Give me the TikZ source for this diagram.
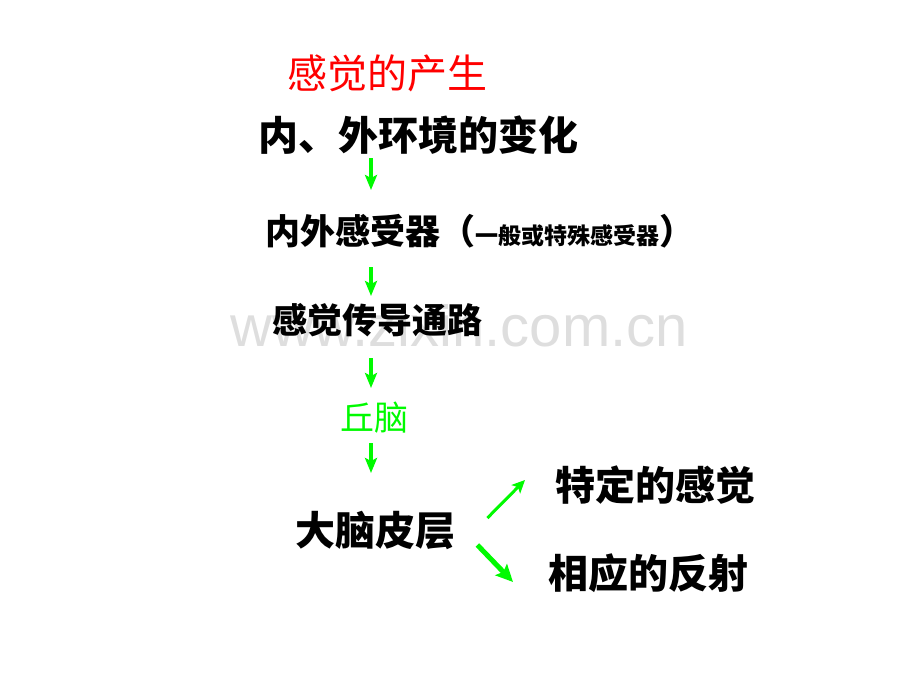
\documentclass[tikz,border=0pt]{standalone}
\usepackage{fontspec}
\setmainfont{Noto Sans CJK SC}
\newfontfamily\wmfont{Liberation Sans}
\usetikzlibrary{shapes,calc,arrows.meta}
\definecolor{arrgreen}{RGB}{0,250,0}
\definecolor{wmgray}{RGB}{222,222,222}
\tikzstyle{txt}=[inner sep=0pt,anchor=base west]
\tikzstyle{arr}=[-{Stealth[length=15pt,width=12pt,inset=3pt]},draw=arrgreen,line width=4pt]

\begin{document}
\begin{tikzpicture}[x=1pt,y=-1pt]
\useasboundingbox (0,0) rectangle (920,690);
\node[txt,text=wmgray,font=\wmfont\fontsize{58}{58}\selectfont] (wm) at (230,346) {www.zixin.com.cn};
\node[txt,text=red,font=\fontsize{40}{40}\selectfont] (title) at (287,89) {感觉的产生};
\node[txt,font=\bfseries\fontsize{40}{40}\selectfont] (env) at (258,150) {内、外环境的变化};
\node[txt,font=\bfseries\fontsize{35}{35}\selectfont] (rec) at (265,244) {内外感受器（{\fontsize{23}{23}\selectfont 一般或特殊感受器}）};
\node[txt,font=\bfseries\fontsize{35}{35}\selectfont] (path) at (272,333) {感觉传导通路};
\node[txt,text=arrgreen,font=\fontsize{34}{34}\selectfont] (thal) at (340,430) {丘脑};
\node[txt,font=\bfseries\fontsize{40}{40}\selectfont] (cortex) at (295,545) {大脑皮层};
\node[txt,font=\bfseries\fontsize{40}{40}\selectfont] (spec) at (555,500) {特定的感觉};
\node[txt,font=\bfseries\fontsize{40}{40}\selectfont] (refl) at (548,588) {相应的反射};
\coordinate (axis) at (371,0);
\draw[arr,shorten <=8pt,shorten >=54pt] (env.base -| axis) -- (rec.base -| axis);
\draw[arr,shorten <=23pt,shorten >=37pt] (rec.base -| axis) -- (path.base -| axis);
\draw[arr,shorten <=25pt,shorten >=42pt] (path.base -| axis) -- (thal.base -| axis);
\draw[arr,shorten <=13pt,shorten >=72pt] (thal.base -| axis) -- (cortex.base -| axis);
\draw[arr,line width=3pt,-{Stealth[length=13pt,width=12pt,inset=3pt]}] ($(cortex.base east)+(32,-27)$) -- ($(spec.base west)+(-30,-20)$);
\draw[arr,line width=5pt,-{Stealth[length=17pt,width=16pt,inset=3pt]}] ($(cortex.base east)+(22,0)$) -- ($(refl.base west)+(-35,-6)$);
\end{tikzpicture}
\end{document}
